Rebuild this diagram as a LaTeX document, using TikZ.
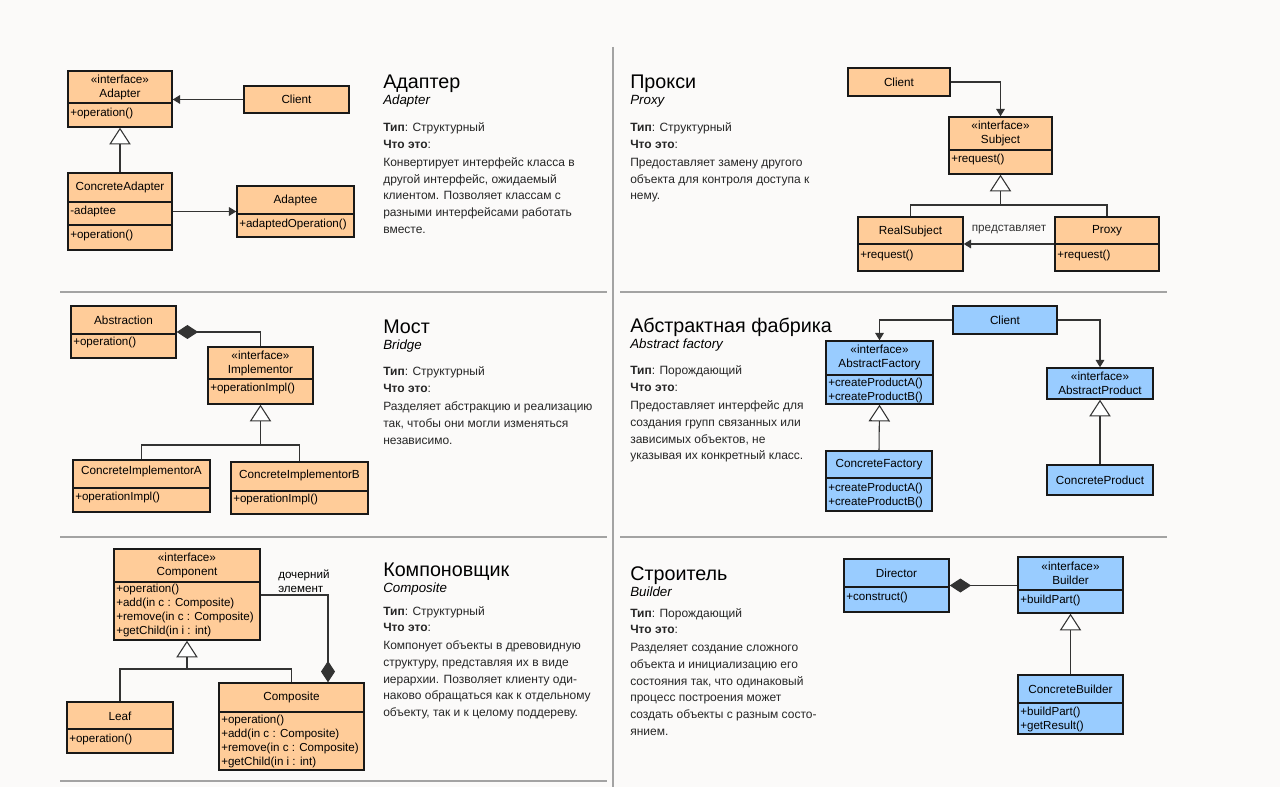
\documentclass[tikz,border=0pt]{standalone}
\usepackage{fontspec}
\setmainfont{Liberation Sans}
\usetikzlibrary{arrows.meta,fit,calc}
\definecolor{paper}{HTML}{FBFAF9}
\definecolor{clsorange}{HTML}{FFCC99}
\definecolor{clsblue}{HTML}{99CCFF}
\definecolor{divider}{HTML}{A3A3A3}
\tikzset{>=latex}
\tikzset{
  box/.style={draw=black!90,line width=1.1pt,inner sep=0pt},
  obox/.style={box,fill=clsorange},
  bbox/.style={box,fill=clsblue},
  hsep/.style={black!90,line width=0.9pt},
  cname/.style={inner sep=0pt,align=center,font=\fontsize{8.8}{10.5}\selectfont},
  cop/.style={inner sep=0pt,anchor=west,align=left,font=\fontsize{8.7}{10.5}\selectfont},
  conn/.style={black!80,line width=0.8pt},
  assoc/.style={conn,-{Triangle[length=5.5pt,width=6.5pt]}},
  gen/.style={conn,-{Triangle[length=12.5pt,width=16pt,fill=white]}},
  comp/.style={conn,{Diamond[length=16pt,width=10.5pt]}-},
  compend/.style={conn,-{Diamond[length=16pt,width=10.5pt]}},
  ttl/.style={anchor=base west,inner sep=0pt,font=\fontsize{14.8}{18}\selectfont},
  subttl/.style={anchor=base west,inner sep=0pt,font=\fontsize{10}{12}\selectfont\itshape},
  txt/.style={anchor=base west,inner sep=0pt,text=black!85,font=\fontsize{9}{11}\selectfont},
  rule/.style={divider,line width=1.1pt},
}
\def\umlclass#1#2#3#4#5#6{\node[#2,fit={(#3,#4) (#5,#6)}] (#1) {}}
\def\hsplit#1#2{\draw[hsep] (#1.west |- 0,#2) -- (#1.east |- 0,#2)}
% name, x, title base, title, english, type, type base, text lines
\newcommand\patinfo[8]{%
  \node[ttl] (#1-ttl) at ({#2},{#3}) {#4};
  \node[subttl] (#1-en) at ({#2},{#3+16}) {#5};
  \node[txt] (#1-type) at ({#2},{#7}) {\textbf{Тип}: #6};
  \node[txt] (#1-what) at ({#2},{#7+16.5}) {\textbf{Что это}:};
  \foreach \tline [count=\i from 0] in {#8}
    \node[txt] (#1-l\i) at ({#2},{#7+34.5+16.75*\i}) {\tline};
}

\begin{document}
\begin{tikzpicture}[x=0.75pt,y=-0.75pt]
  \fill[paper] (0,0) rectangle (1280,787);
  \useasboundingbox (0,0) rectangle (1280,787);

  % DIVIDERS
  \draw[rule] (613,47) -- (613,787);
  \draw[rule] (60,292) -- (607,292) (620,292) -- (1167,292);
  \draw[rule] (60,537) -- (607,537) (620,537) -- (1167,537);
  \draw[rule] (60,781) -- (607,781);

  % ADAPTER
  \umlclass{adapter}{obox}{68}{71}{172}{127};
  \hsplit{adapter}{103};
  \node[cname] (adapter-n) at (120,87) {«interface»\\Adapter};
  \node[cop] (adapter-o) at (70,114) {+operation()};
  \umlclass{aclient}{obox}{244}{86}{349}{113};
  \node[cname] (aclient-n) at (aclient) {Client};
  \umlclass{cadapter}{obox}{68}{173}{172}{250};
  \hsplit{cadapter}{202};
  \hsplit{cadapter}{225};
  \node[cname] (cadapter-n) at (120,187) {ConcreteAdapter};
  \node[cop] (cadapter-a) at (70,212) {-adaptee};
  \node[cop] (cadapter-o) at (70,236) {+operation()};
  \umlclass{adaptee}{obox}{237}{186}{354}{237};
  \hsplit{adaptee}{214};
  \node[cname] (adaptee-n) at (295.5,200) {Adaptee};
  \node[cop] (adaptee-o) at (239,225) {+adaptedOperation()};
  \draw[assoc] (aclient.west) -- (aclient.west -| adapter.east);
  \draw[gen] (cadapter.north) -- (adapter.south);
  \draw[assoc] (cadapter.east |- adaptee.west) -- (adaptee.west);
  \patinfo{adapt}{383}{89}{Адаптер}{Adapter}{Структурный}{132}
    {{Конвертирует интерфейс класса в},{другой интерфейс, ожидаемый},
     {клиентом. Позволяет классам с},{разными интерфейсами работать},{вместе.}}

  % PROXY
  \umlclass{pclient}{obox}{848}{68}{950}{96};
  \node[cname] (pclient-n) at (pclient) {Client};
  \umlclass{subject}{obox}{949}{117}{1052}{174};
  \hsplit{subject}{150};
  \node[cname] (subject-n) at (1000.5,133.5) {«interface»\\Subject};
  \node[cop] (subject-o) at (951,160) {+request()};
  \umlclass{realsubj}{obox}{858}{217}{963}{271};
  \hsplit{realsubj}{244};
  \node[cname] (realsubj-n) at (910.5,231) {RealSubject};
  \node[cop] (realsubj-o) at (860,256) {+request()};
  \umlclass{proxy}{obox}{1055}{217}{1159}{271};
  \hsplit{proxy}{244};
  \node[cname] (proxy-n) at (1107,231) {Proxy};
  \node[cop] (proxy-o) at (1057,256) {+request()};
  \draw[assoc] (pclient.east) -| (subject.north);
  \coordinate (pbranch) at (1000.5,205);
  \draw[conn] (realsubj.north) |- (pbranch) -| (proxy.north);
  \draw[gen] (pbranch) -- (subject.south);
  \draw[assoc] (proxy.west) -- (realsubj.east)
    node[cname,midway,above=7pt] (represents) {представляет};
  \patinfo{prox}{630}{89}{Прокси}{Proxy}{Структурный}{132}
    {{Предоставляет замену другого},{объекта для контроля доступа к},{нему.}}

  % BRIDGE
  \umlclass{abstraction}{obox}{71}{306}{176}{358};
  \hsplit{abstraction}{334};
  \node[cname] (abstraction-n) at (123.5,320) {Abstraction};
  \node[cop] (abstraction-o) at (73,343) {+operation()};
  \umlclass{implementor}{obox}{208}{347}{313}{404};
  \hsplit{implementor}{379};
  \node[cname] (implementor-n) at (260.5,363) {«interface»\\Implementor};
  \node[cop] (implementor-o) at (210,389) {+operationImpl()};
  \umlclass{impla}{obox}{73}{460}{210}{512};
  \hsplit{impla}{488};
  \node[cname] (impla-n) at (141.5,471) {ConcreteImplementorA};
  \node[cop] (impla-o) at (75,497) {+operationImpl()};
  \umlclass{implb}{obox}{231}{462}{368}{514};
  \hsplit{implb}{491};
  \node[cname] (implb-n) at (299.5,475) {ConcreteImplementorB};
  \node[cop] (implb-o) at (233,499) {+operationImpl()};
  \draw[comp] (abstraction.east) -| (implementor.north);
  \coordinate (bbranch) at (260.5,445);
  \draw[conn] (impla.north) |- (bbranch) -| (implb.north);
  \draw[gen] (bbranch) -- (implementor.south);
  \patinfo{bridge}{383}{334}{Мост}{Bridge}{Структурный}{376}
    {{Разделяет абстракцию и реализацию},{так, чтобы они могли изменяться},{независимо.}}

  % ABSTRACT FACTORY
  \umlclass{fclient}{bbox}{953}{306}{1057}{334};
  \node[cname] (fclient-n) at (fclient) {Client};
  \umlclass{afactory}{bbox}{826}{341}{933}{404};
  \hsplit{afactory}{375};
  \node[cname] (afactory-n) at (879.5,357) {«interface»\\AbstractFactory};
  \node[cop] (afactory-o) at (828,390) {+createProductA()\\+createProductB()};
  \umlclass{aproduct}{bbox}{1047}{368}{1153}{399};
  \node[cname] (aproduct-n) at (aproduct) {«interface»\\AbstractProduct};
  \umlclass{cfactory}{bbox}{826}{451}{932}{511};
  \hsplit{cfactory}{478};
  \node[cname] (cfactory-n) at (879,465) {ConcreteFactory};
  \node[cop] (cfactory-o) at (828,495) {+createProductA()\\+createProductB()};
  \umlclass{cproduct}{bbox}{1047}{465}{1153}{495};
  \node[cname] (cproduct-n) at (cproduct) {ConcreteProduct};
  \draw[assoc] (fclient.west) -| (afactory.north);
  \draw[assoc] (fclient.east) -| (aproduct.north);
  \draw[gen] (cfactory.north) -- (afactory.south);
  \draw[gen] (cproduct.north) -- (aproduct.south);
  \patinfo{factory}{630}{333}{Абстрактная фабрика}{Abstract factory}{Порождающий}{375}
    {{Предоставляет интерфейс для},{создания групп связанных или},
     {зависимых объектов, не},{указывая их конкретный класс.}}

  % COMPOSITE
  \umlclass{component}{obox}{114}{549}{260}{640};
  \hsplit{component}{582};
  \node[cname] (component-n) at (187,565.5) {«interface»\\Component};
  \node[cop] (component-o) at (116,610) {+operation()\\+add(in c : Composite)\\+remove(in c : Composite)\\+getChild(in i : int)};
  \umlclass{leaf}{obox}{67}{702}{173}{753};
  \hsplit{leaf}{729};
  \node[cname] (leaf-n) at (120,716) {Leaf};
  \node[cop] (leaf-o) at (69,739) {+operation()};
  \umlclass{composite}{obox}{219}{683}{364}{770};
  \hsplit{composite}{712};
  \node[cname] (composite-n) at (291.5,697) {Composite};
  \node[cop] (composite-o) at (221,741) {+operation()\\+add(in c : Composite)\\+remove(in c : Composite)\\+getChild(in i : int)};
  \coordinate (cbranch) at (187,669);
  \draw[conn] (leaf.north) |- (cbranch) -| (composite.north);
  \draw[gen] (cbranch) -- (component.south);
  \coordinate (cchild) at (328,595);
  \draw[compend] (component.east |- cchild) -- (cchild) -- (cchild |- composite.north);
  \node[cop,align=left] (child-lbl) at (278,581) {дочерний\\элемент};
  \patinfo{compos}{383}{576}{Компоновщик}{Composite}{Структурный}{615}
    {{Компонует объекты в древовидную},{структуру, представляя их в виде},
     {иерархии. Позволяет клиенту оди-},{наково обращаться как к отдельному},
     {объекту, так и к целому поддереву.}}

  % BUILDER
  \umlclass{director}{bbox}{844}{559}{949}{612};
  \hsplit{director}{587};
  \node[cname] (director-n) at (896.5,573) {Director};
  \node[cop] (director-o) at (846,597) {+construct()};
  \umlclass{builder}{bbox}{1018}{557}{1123}{613};
  \hsplit{builder}{590};
  \node[cname] (builder-n) at (1070.5,573) {«interface»\\Builder};
  \node[cop] (builder-o) at (1020,600) {+buildPart()};
  \umlclass{cbuilder}{bbox}{1018}{675}{1123}{734};
  \hsplit{cbuilder}{703};
  \node[cname] (cbuilder-n) at (1070.5,689) {ConcreteBuilder};
  \node[cop] (cbuilder-o) at (1020,719) {+buildPart()\\+getResult()};
  \draw[comp] (director.east) -- (director.east -| builder.west);
  \draw[gen] (cbuilder.north) -- (builder.south);
  \patinfo{build}{630}{580}{Строитель}{Builder}{Порождающий}{617}
    {{Разделяет создание сложного},{объекта и инициализацию его},
     {состояния так, что одинаковый},{процесс построения может},
     {создать объекты с разным состо-},{янием.}}
\end{tikzpicture}
\end{document}
